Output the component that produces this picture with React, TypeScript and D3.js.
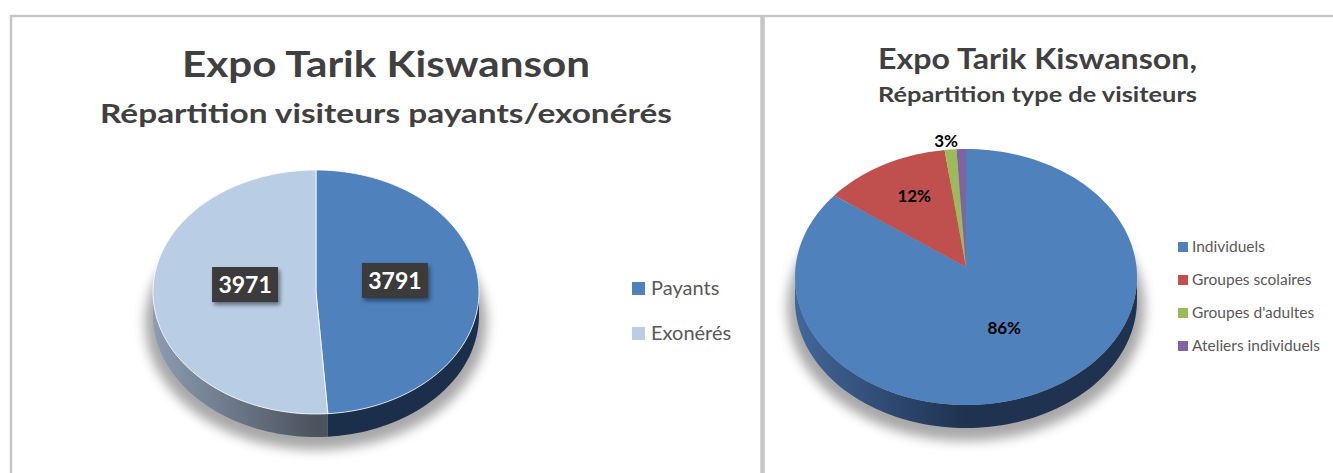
import React from "react";
import * as d3 from "d3";

// left chart: paying vs exempt visitors
const payCategories = ["Payants", "Exonérés"];
const payValues = [3791, 3971];
const payColors = ["#4F81BD", "#B9CDE5"];
const paySideColors = [
  ["#203756", "#1C2F4A"],
  ["#8C9CB2", "#4B535E"],
];

// right chart: visitor types
const typeCategories = ["Individuels", "Groupes scolaires", "Groupes d'adultes", "Ateliers individuels"];
const typeValues = [86, 12, 1.1, 0.9];
const typeLabels = ["86%", "12%", "3%", ""];
const typeColors = ["#4F81BD", "#C0504D", "#9BBB59", "#8064A2"];
const typeSideColors = [
  ["#41679A", "#1F324F"],
  ["#7E302E", "#5E2220"],
  ["#637A36", "#4C5E29"],
  ["#4F3D66", "#3B2D4D"],
];

const FONT = "Lato, 'Open Sans', sans-serif";

interface PieProps {
  id: string;
  values: number[];
  colors: string[];
  sideColors: string[][];
  cx: number;
  cy: number;
  rx: number;
  ry: number;
  depth: number;
  apexDy: number;
  renderLabel: (i: number, x: number, y: number, small: boolean) => React.ReactNode;
  labelR: number;
  labelDx: number;
  labelDy: number;
  stroke: string;
}

const Pie3D: React.FC<PieProps> = (p) => {
  const pie = d3.pie<number>().sort(null).value((d) => d);
  const arcs = pie(p.values);
  const line = d3.line();
  const pt = (a: number, dy = 0): [number, number] => [
    p.cx + p.rx * Math.sin(a),
    p.cy - p.ry * Math.cos(a) + dy,
  ];
  const sample = (a0: number, a1: number) => {
    const n = Math.max(2, Math.ceil(((a1 - a0) / (2 * Math.PI)) * 180));
    return d3.range(n + 1).map((i) => a0 + ((a1 - a0) * i) / n);
  };
  const apex: [number, number] = [p.cx, p.cy + p.apexDy];

  return (
    <g>
      <defs>
        <filter id={`${p.id}-shadow`} x="-30%" y="-30%" width="160%" height="160%">
          <feGaussianBlur stdDeviation="6" />
        </filter>
        {p.sideColors.map((c, i) => (
          <linearGradient
            key={i}
            id={`${p.id}-side-${i}`}
            gradientUnits="userSpaceOnUse"
            x1={p.cx - p.rx}
            x2={p.cx + p.rx}
            y1={0}
            y2={0}
          >
            <stop offset="0" stopColor={c[0]} />
            <stop offset="0.5" stopColor={c[1]} />
            <stop offset="1" stopColor={c[1]} />
          </linearGradient>
        ))}
      </defs>
      <ellipse
        cx={p.cx}
        cy={p.cy + p.depth + 8}
        rx={p.rx + 8}
        ry={p.ry + 5}
        fill="#000"
        opacity={0.34}
        filter={`url(#${p.id}-shadow)`}
      />
      {arcs.map((d, i) => {
        const a0 = Math.max(d.startAngle, Math.PI / 2);
        const a1 = Math.min(d.endAngle, (3 * Math.PI) / 2);
        if (a1 <= a0) return null;
        const angles = sample(a0, a1);
        const pts = [
          ...angles.map((a) => pt(a)),
          ...angles.slice().reverse().map((a) => pt(a, p.depth)),
        ];
        return <path key={`s${i}`} d={line(pts) + "Z"} fill={`url(#${p.id}-side-${i})`} />;
      })}
      {arcs.map((d, i) => {
        const pts = [apex, ...sample(d.startAngle, d.endAngle).map((a) => pt(a))];
        return (
          <path
            key={`t${i}`}
            d={line(pts) + "Z"}
            fill={p.colors[i]}
            stroke={p.stroke}
            strokeWidth={0.8}
            strokeLinejoin="round"
          />
        );
      })}
      {arcs.map((d, i) => {
        const mid = (d.startAngle + d.endAngle) / 2;
        const small = d.endAngle - d.startAngle < 0.3;
        const r = small ? 1.02 : p.labelR;
        const x = p.cx + p.labelDx + r * p.rx * Math.sin(mid);
        const y = small
          ? p.cy - r * p.ry * Math.cos(mid)
          : apex[1] + p.labelDy + 10 - r * p.ry * Math.cos(mid);
        return <g key={`l${i}`}>{p.renderLabel(i, x, y, small)}</g>;
      })}
    </g>
  );
};

const App: React.FC = () => {
  const border = "#C6C6C6";
  return (
    <svg
      width={1333}
      height={473}
      style={{ position: "absolute", left: 0, top: 0, background: "#fff" }}
      fontFamily={FONT}
    >
      <defs>
        <filter id="boxShadow" x="-30%" y="-30%" width="160%" height="160%">
          <feDropShadow dx="2" dy="3" stdDeviation="2" floodColor="#000" floodOpacity="0.45" />
        </filter>
      </defs>
      <rect width={1333} height={473} fill="#fff" />

      {/* panel frames */}
      <line x1={10} x2={1333} y1={16} y2={16} stroke={border} strokeWidth={2.5} />
      <line x1={11} x2={11} y1={15} y2={473} stroke={border} strokeWidth={2.5} />
      <line x1={762.5} x2={762.5} y1={15} y2={473} stroke={border} strokeWidth={4.5} />

      {/* left chart */}
      <text x={182} y={77} fontSize={37} fontWeight="bold" fill="#404040" textLength={408} lengthAdjust="spacingAndGlyphs">
        Expo Tarik Kiswanson
      </text>
      <text x={100} y={123} fontSize={27} fontWeight="bold" fill="#404040" textLength={572} lengthAdjust="spacingAndGlyphs">
        Répartition visiteurs payants/exonérés
      </text>
      <Pie3D
        id="pay"
        values={payValues}
        colors={payColors}
        sideColors={paySideColors}
        cx={316}
        cy={292}
        rx={163}
        ry={122}
        depth={23}
        apexDy={0}
        labelR={0.46}
        labelDx={4}
        labelDy={-19}
        stroke="#fff"
        renderLabel={(i, x, y) => (
          <g>
            <rect x={x - 33} y={y - 18} width={66} height={35} fill="#3B3B3B" filter="url(#boxShadow)" />
            <text x={x} y={y} dy="0.36em" textAnchor="middle" fontSize={23} fontWeight="bold" fill="#fff">
              {payValues[i]}
            </text>
          </g>
        )}
      />
      {payCategories.map((c, i) => (
        <g key={c} transform={`translate(632,${282 + i * 45})`}>
          <rect width={13} height={13} fill={payColors[i]} />
          <text x={19} y={13} fontSize={20} fill="#595959">
            {c}
          </text>
        </g>
      ))}

      {/* right chart */}
      <text x={878} y={69} fontSize={28} fontWeight="bold" fill="#404040" textLength={319} lengthAdjust="spacingAndGlyphs">
        Expo Tarik Kiswanson,
      </text>
      <text x={878} y={102} fontSize={21} fontWeight="bold" fill="#404040" textLength={319} lengthAdjust="spacingAndGlyphs">
        Répartition type de visiteurs
      </text>
      <Pie3D
        id="type"
        values={typeValues}
        colors={typeColors}
        sideColors={typeSideColors}
        cx={966}
        cy={277}
        rx={171}
        ry={128}
        depth={23}
        apexDy={-10}
        labelR={0.58}
        labelDx={-4}
        labelDy={-16}
        stroke="none"
        renderLabel={(i, x, y, small) =>
          typeLabels[i] ? (
            <text x={x} y={y} dy={small ? "0" : "0.36em"} textAnchor="middle" fontSize={17} fontWeight="bold" fill="#000">
              {typeLabels[i]}
            </text>
          ) : null
        }
      />
      {typeCategories.map((c, i) => (
        <g key={c} transform={`translate(1178,${242 + i * 33})`}>
          <rect width={10} height={10} fill={typeColors[i]} />
          <text x={14} y={10} fontSize={15.5} fill="#595959">
            {c}
          </text>
        </g>
      ))}
    </svg>
  );
};

export default App;
